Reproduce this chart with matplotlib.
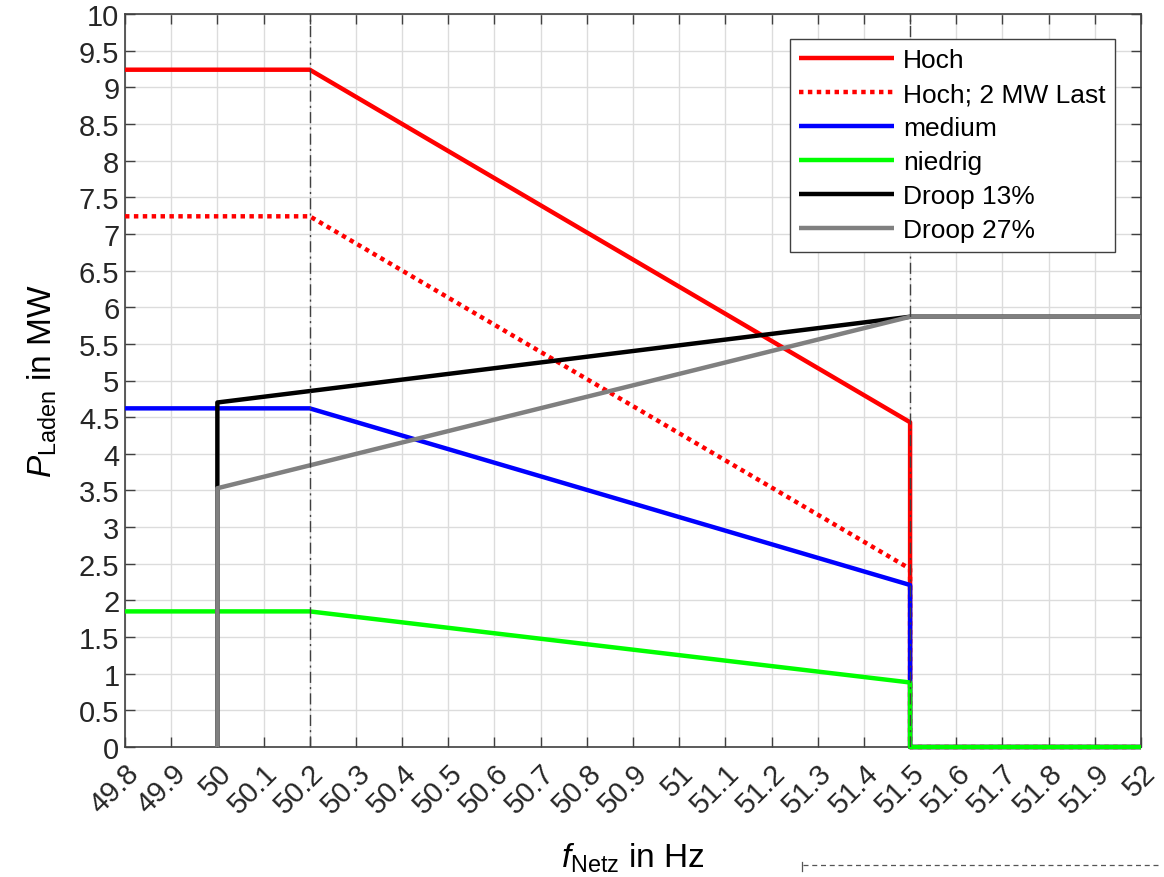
import matplotlib
matplotlib.use("Agg")
import matplotlib.pyplot as plt
from matplotlib.lines import Line2D
import numpy as np

plt.rcParams['font.family'] = ['Liberation Sans', 'DejaVu Sans']
plt.rcParams['mathtext.fontset'] = 'custom'
plt.rcParams['mathtext.rm'] = 'Liberation Sans'
plt.rcParams['mathtext.it'] = 'Liberation Sans:italic'

# Data
f_load = [49.8, 50.2, 51.5, 51.5, 52.0]
hoch = [9.24, 9.24, 4.43, 0.0, 0.0]
hoch_last = [7.24, 7.24, 2.43, 0.0, 0.0]
medium = [4.62, 4.62, 2.21, 0.0, 0.0]
niedrig = [1.85, 1.85, 0.88, 0.0, 0.0]
f_droop = [50.0, 50.0, 50.0, 51.5, 52.0]
droop13 = [0.0, 3.53, 4.70, 5.87, 5.87]
droop27 = [0.0, 0.0, 3.53, 5.87, 5.87]
vlines_f = [50.2, 51.5]
xticks = np.round(np.arange(49.8, 52.0001, 0.1), 1)
yticks = np.round(np.arange(0, 10.0001, 0.5), 1)

def fmt(v):
    return f"{v:g}"

fig = plt.figure(figsize=(11.64, 8.78), dpi=100)
ax = fig.add_axes([125/1164, 1-748/878, (1141-125)/1164, (748-15)/878])

lw = 3.2
common = dict(lw=lw, zorder=3, clip_on=False, solid_capstyle='butt')
ax.plot(f_load, hoch, color='#ff0000', label='Hoch', **common)
ax.plot(f_load, hoch_last, color='#ff0000', linestyle=(0, (1, 1)),
        dash_capstyle='butt', label='Hoch; 2 MW Last', **common)
ax.plot(f_load, medium, color='#0000ff', label='medium', **common)
ax.plot(f_load, niedrig, color='#00ff00', label='niedrig', **common)
ax.plot(f_droop, droop13, color='#000000', label='Droop 13%', **common)
ax.plot(f_droop, droop27, color='#808080', label='Droop 27%', **common)

for v in vlines_f:
    ax.axvline(v, color='#404040', lw=1.0, linestyle=(0, (8, 3, 1.5, 3)), zorder=4)

ax.set_xlim(49.8, 52.0)
ax.set_ylim(0, 10)
ax.set_xticks(xticks)
ax.set_xticklabels([fmt(v) for v in xticks], rotation=45, ha='right',
                   rotation_mode='anchor', fontsize=21, color='#262626')
ax.set_yticks(yticks)
ax.set_yticklabels([fmt(v) for v in yticks], fontsize=21, color='#262626')
ax.grid(True, color='#dcdcdc', lw=1.0, zorder=0)
ax.set_axisbelow(True)
ax.tick_params(direction='in', length=7, width=1.0, color='#404040',
               top=True, right=True)
ax.tick_params(axis='y', pad=4)
ax.tick_params(axis='x', pad=8)
for s in ax.spines.values():
    s.set_color('#404040')
    s.set_linewidth(1.2)

ax.set_xlabel(r'$f_{\mathrm{Netz}}$ in Hz', fontsize=24, labelpad=16)
ax.set_ylabel(r'$P_{\mathrm{Laden}}$ in MW', fontsize=24, labelpad=14)

leg = ax.legend(loc='upper right', bbox_to_anchor=(0.9744, 0.966), fontsize=19,
                frameon=True, fancybox=False, edgecolor='#404040',
                handlelength=3.6, handletextpad=0.35, labelspacing=0.38,
                borderpad=0.35, borderaxespad=0.0)
leg.get_frame().set_linewidth(1.0)
leg.get_frame().set_alpha(1.0)
leg.set_zorder(10)

# dashed artifact bottom right
fig.add_artist(Line2D([803/1164, 1160/1164], [1-866/878, 1-866/878],
                      transform=fig.transFigure, color='#555555', lw=0.9,
                      linestyle=(0, (4, 3))))
fig.add_artist(Line2D([802/1164, 802/1164], [1-863/878, 1-872/878],
                      transform=fig.transFigure, color='#555555', lw=0.9))

fig.savefig('out.png', dpi=100)
